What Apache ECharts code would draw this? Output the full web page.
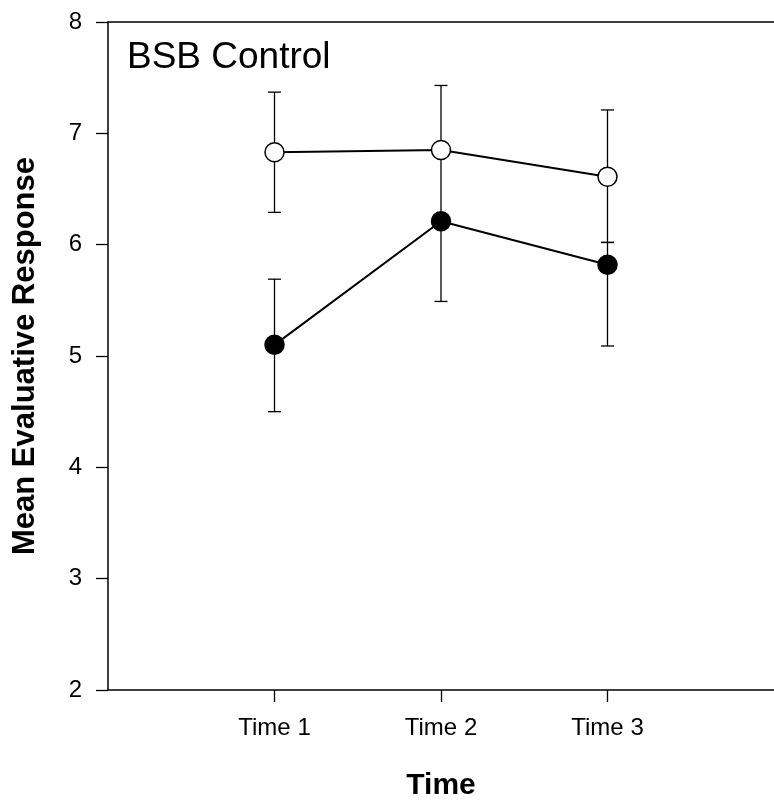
<!DOCTYPE html>
<html><head><meta charset="utf-8">
<script src="https://cdn.jsdelivr.net/npm/echarts@6/dist/echarts.min.js"></script>
<style>html,body{margin:0;padding:0;background:#fff}#c{width:774px;height:806px}</style>
</head><body><div id="c"></div>
<script>
const categories = ['Time 1', 'Time 2', 'Time 3'];
const yTicks = [2, 3, 4, 5, 6, 7, 8];
// open circles
const openMean = [6.83, 6.85, 6.61];
const openHigh = [7.37, 7.43, 7.21];
const openLow  = [6.29, 6.27, 6.02];
// filled circles
const filledMean = [5.10, 6.21, 5.82];
const filledHigh = [5.69, 6.21, 6.02];
const filledLow  = [4.50, 5.49, 5.09];

const FONT = '"Liberation Sans", Arial, sans-serif';
const chart = echarts.init(document.getElementById('c'), null, {renderer: 'canvas'});

function pts(arr) { return arr.map((v, i) => [i + 1, v]); }
function errData(low, high) { return low.map((l, i) => [i + 1, l, high[i]]); }

function errRender(params, api) {
  const x = api.value(0), lo = api.value(1), hi = api.value(2);
  const pLo = api.coord([x, lo]), pHi = api.coord([x, hi]);
  const cap = 6.5;
  const st = {stroke: '#000', lineWidth: 1.3};
  const children = [
    {type: 'line', shape: {x1: pLo[0], y1: pLo[1], x2: pHi[0], y2: pHi[1]}, style: st}
  ];
  if (hi !== lo) {
    children.push({type: 'line', shape: {x1: pHi[0] - cap, y1: pHi[1], x2: pHi[0] + cap, y2: pHi[1]}, style: st});
    children.push({type: 'line', shape: {x1: pLo[0] - cap, y1: pLo[1], x2: pLo[0] + cap, y2: pLo[1]}, style: st});
  }
  return {type: 'group', children};
}

chart.setOption({
  animation: false,
  backgroundColor: '#fff',
  grid: {left: 108, top: 22, right: -4, bottom: 115, containLabel: false},
  xAxis: [{
    type: 'value', min: 0, max: 4, interval: 1,
    name: 'Time', nameLocation: 'middle', nameGap: 81,
    nameTextStyle: {fontFamily: FONT, fontSize: 30, fontWeight: 'bold', color: '#000'},
    axisLine: {show: true, onZero: false, lineStyle: {color: '#000', width: 1.5}},
    axisTick: {show: true, length: 12, inside: false, customValues: [1, 2, 3], lineStyle: {color: '#000', width: 1.3}},
    axisLabel: {margin: 26, fontFamily: FONT, fontSize: 24, color: '#000', customValues: [1, 2, 3],
      formatter: v => categories[v - 1] || ''},
    splitLine: {show: false}
  }, {
    type: 'value', min: 0, max: 4, position: 'top',
    axisLine: {show: true, onZero: false, lineStyle: {color: '#000', width: 1.5}},
    axisTick: {show: false}, axisLabel: {show: false}, splitLine: {show: false}
  }],
  yAxis: {
    type: 'value', min: 2, max: 8, interval: 1,
    name: 'Mean Evaluative Response', nameLocation: 'middle', nameGap: 67, nameRotate: 90,
    nameTextStyle: {fontFamily: FONT, fontSize: 31, fontWeight: 'bold', color: '#000'},
    axisLine: {show: true, onZero: false, lineStyle: {color: '#000', width: 1.5}},
    axisTick: {show: true, length: 12, inside: false, lineStyle: {color: '#000', width: 1.3}},
    axisLabel: {margin: 26, fontFamily: FONT, fontSize: 24, color: '#000',
      formatter: v => yTicks.indexOf(v) >= 0 ? String(v) : ''},
    splitLine: {show: false}
  },
  graphic: [{
    type: 'text', left: 127, top: 39,
    style: {text: 'BSB Control', fontFamily: FONT, fontSize: 37, fill: '#000'}
  }],
  series: [
    {type: 'custom', renderItem: errRender, data: errData(openLow, openHigh), z: 1, silent: true},
    {type: 'custom', renderItem: errRender, data: errData(filledLow, filledHigh), z: 1, silent: true},
    {type: 'line', data: pts(openMean), symbol: 'circle', symbolSize: 19, z: 3,
      lineStyle: {color: '#000', width: 2}, itemStyle: {color: '#fff', borderColor: '#000', borderWidth: 1.5}},
    {type: 'line', data: pts(filledMean), symbol: 'circle', symbolSize: 19, z: 3,
      lineStyle: {color: '#000', width: 2}, itemStyle: {color: '#000', borderColor: '#000', borderWidth: 1.5}}
  ]
});
</script></body></html>
